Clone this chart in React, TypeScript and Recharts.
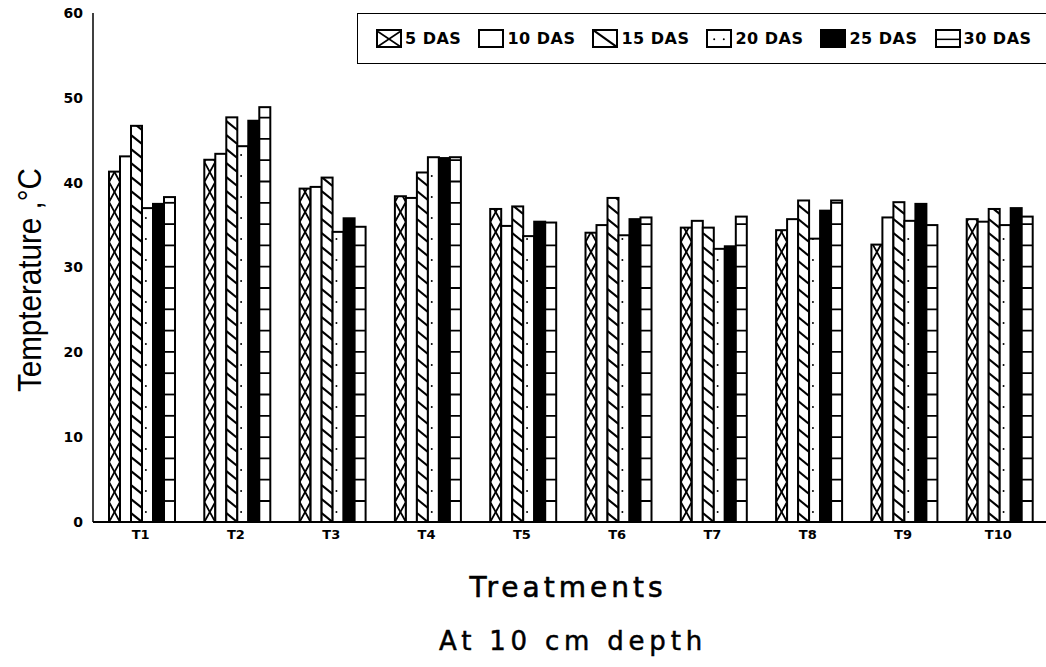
import React, { useId } from 'react'
import { BarChart, Bar, XAxis, YAxis } from 'recharts'

const treatments = ['T1', 'T2', 'T3', 'T4', 'T5', 'T6', 'T7', 'T8', 'T9', 'T10']
const das5 = [41.3, 42.7, 39.3, 38.4, 36.9, 34.1, 34.7, 34.4, 32.7, 35.7]
const das10 = [43.1, 43.4, 39.5, 38.2, 34.9, 35.0, 35.5, 35.7, 35.9, 35.4]
const das15 = [46.7, 47.7, 40.6, 41.2, 37.2, 38.2, 34.7, 37.9, 37.7, 36.9]
const das20 = [37.0, 44.3, 34.2, 43.0, 33.7, 33.8, 32.2, 33.4, 35.5, 35.0]
const das25 = [37.5, 47.3, 35.8, 42.9, 35.4, 35.7, 32.5, 36.7, 37.5, 37.0]
const das30 = [38.3, 48.9, 34.8, 43.0, 35.3, 35.9, 36.0, 37.9, 35.0, 36.0]
const yTicks = [0, 10, 20, 30, 40, 50, 60]

type Kind = 'cross' | 'plain' | 'diag' | 'dots' | 'solid' | 'hlines'

const SERIES: { key: string; name: string; kind: Kind }[] = [
  { key: 'd5', name: '5 DAS', kind: 'cross' },
  { key: 'd10', name: '10 DAS', kind: 'plain' },
  { key: 'd15', name: '15 DAS', kind: 'diag' },
  { key: 'd20', name: '20 DAS', kind: 'dots' },
  { key: 'd25', name: '25 DAS', kind: 'solid' },
  { key: 'd30', name: '30 DAS', kind: 'hlines' },
]

const data = treatments.map((name, i) => ({
  name,
  d5: das5[i], d10: das10[i], d15: das15[i],
  d20: das20[i], d25: das25[i], d30: das30[i],
}))

const FONT = '"DejaVu Sans", sans-serif'

// outlined rect + hatch, pattern anchored at bar bottom
function PatternBar(props: any) {
  const { x, y, width: w, height: h, kind, small } = props
  const rawId = useId()
  const clipId = 'c' + rawId.replace(/[^a-zA-Z0-9]/g, '')
  if (!h || h <= 0) return null
  const bottom = y + h
  const marks: React.ReactNode[] = []
  const sw = 1.8
  if (kind === 'cross') {
    const p = small ? 16 : 20
    for (let b = bottom, k = 0; b > y - 2 * p; b -= 2 * p, k++) {
      marks.push(<polyline key={'a' + k} points={`${x},${b} ${x + w},${b - p} ${x},${b - 2 * p}`} fill="none" stroke="#000" strokeWidth={sw} />)
      marks.push(<polyline key={'b' + k} points={`${x + w},${b} ${x},${b - p} ${x + w},${b - 2 * p}`} fill="none" stroke="#000" strokeWidth={sw} />)
    }
  } else if (kind === 'diag') {
    if (small) {
      marks.push(<line key="s" x1={x} y1={y} x2={x + w} y2={bottom} stroke="#000" strokeWidth={2.2} />)
    } else {
      for (let b = bottom, k = 0; b > y - 10; b -= 14, k++) {
        marks.push(<line key={k} x1={x} y1={b - 9} x2={x + w} y2={b} stroke="#000" strokeWidth={2.2} />)
      }
    }
  } else if (kind === 'dots') {
    if (small) {
      marks.push(<circle key="a" cx={x + w * 0.3} cy={y + h * 0.55} r={1} fill="#000" />)
      marks.push(<circle key="b" cx={x + w * 0.7} cy={y + h * 0.55} r={1} fill="#000" />)
    } else {
      for (let b = bottom - 10, k = 0; b > y; b -= 21, k++) {
        marks.push(<circle key={k} cx={x + w * 0.35} cy={b} r={1} fill="#000" />)
      }
    }
  } else if (kind === 'hlines') {
    if (small) {
      marks.push(<line key="s" x1={x} y1={y + h * 0.55} x2={x + w} y2={y + h * 0.55} stroke="#000" strokeWidth={1.5} />)
    } else {
      for (let b = bottom - 21, k = 0; b > y + 2; b -= 21.3, k++) {
        marks.push(<line key={k} x1={x} y1={b} x2={x + w} y2={b} stroke="#000" strokeWidth={sw} />)
      }
    }
  }
  return (
    <g>
      <defs>
        <clipPath id={clipId}>
          <rect x={x} y={y} width={w} height={h} />
        </clipPath>
      </defs>
      <rect x={x} y={y} width={w} height={h} fill={kind === 'solid' ? '#000' : '#fff'} />
      <g clipPath={`url(#${clipId})`}>{marks}</g>
      <rect x={x} y={y} width={w} height={h} fill="none" stroke="#000" strokeWidth={2} />
    </g>
  )
}

function ChartLegend() {
  return (
    <div style={{
      position: 'absolute', left: 357, top: 13, width: 689, height: 51,
      boxSizing: 'border-box', border: '1.5px solid #000', borderRight: 'none',
      display: 'flex', alignItems: 'center', paddingLeft: 18, gap: 17,
      fontFamily: FONT, fontWeight: 'bold', fontSize: 16, letterSpacing: 0.5, color: '#000',
    }}>
      {SERIES.map((s) => (
        <div key={s.key} style={{ display: 'flex', alignItems: 'center' }}>
          <svg width={26} height={19} style={{ marginRight: 3 }}>
            <PatternBar x={1} y={1} width={24} height={17} kind={s.kind} small />
          </svg>
          <span>{s.name}</span>
        </div>
      ))}
    </div>
  )
}

export default function App() {
  return (
    <div style={{ position: 'absolute', left: 0, top: 0, width: 1046, height: 667, background: '#fff' }}>
      <BarChart
        width={1046}
        height={667}
        data={data}
        margin={{ top: 13, right: 0, bottom: 115, left: 0 }}
        barCategoryGap={16}
        barGap={0}
      >
        <XAxis
          dataKey="name"
          interval={0}
          height={30}
          axisLine={{ stroke: '#000', strokeWidth: 2 }}
          tickLine={false}
          tickSize={0}
          tickMargin={8}
          tick={{ fill: '#000', fontSize: 13, fontWeight: 'bold', fontFamily: FONT }}
        />
        <YAxis
          width={93}
          domain={[0, 60]}
          ticks={yTicks}
          axisLine={{ stroke: '#000', strokeWidth: 1.5 }}
          tickLine={false}
          tickSize={0}
          tickMargin={10}
          tick={{ fill: '#000', fontSize: 14, fontWeight: 'bold', fontFamily: FONT }}
        />
        {SERIES.map((s) => (
          <Bar
            key={s.key}
            dataKey={s.key}
            name={s.name}
            isAnimationActive={false}
            shape={(p: any) => <PatternBar {...p} kind={s.kind} />}
          />
        ))}
      </BarChart>
      <ChartLegend />
      <svg width={1046} height={667} style={{ position: 'absolute', left: 0, top: 0, pointerEvents: 'none' }}>
        <text
          transform="translate(41,392) rotate(-90) scale(0.87,1)"
          fontFamily='"Liberation Sans", Arial, sans-serif'
          fontSize={34}
          fill="#000"
        >
          Tempterature ,°C
        </text>
        <text x={568} y={597} textAnchor="middle" fontFamily={FONT} fontSize={28} letterSpacing={4}
          fill="#000" stroke="#000" strokeWidth={0.6}>
          Treatments
        </text>
        <text x={573} y={650} textAnchor="middle" fontFamily={FONT} fontSize={26} letterSpacing={4.8}
          fill="#000" stroke="#000" strokeWidth={0.5}>
          At 10 cm depth
        </text>
      </svg>
    </div>
  )
}
